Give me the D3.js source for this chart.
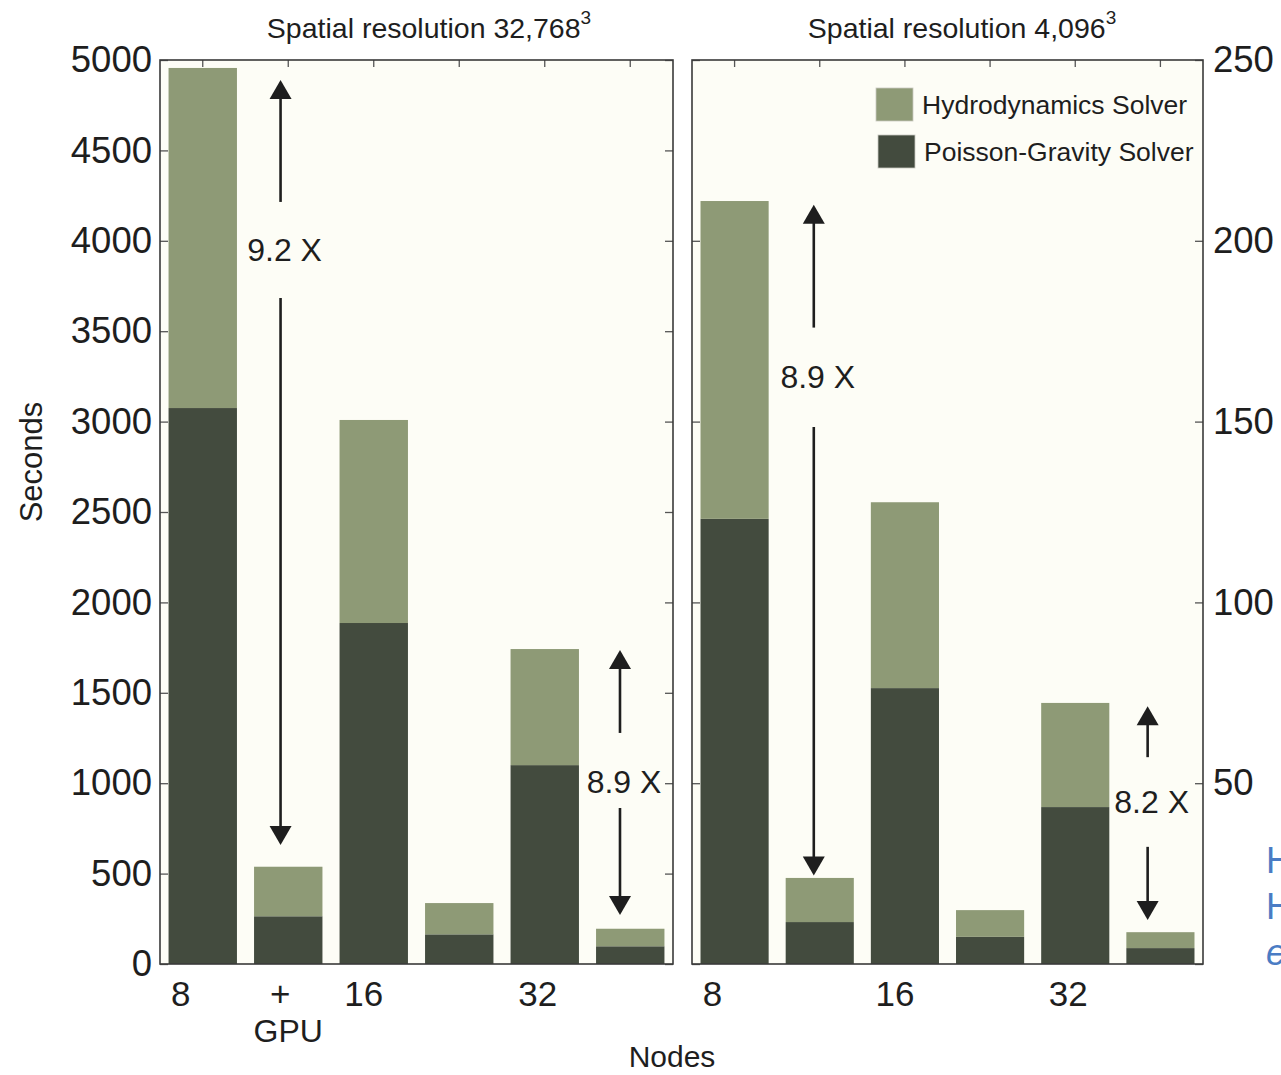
<!DOCTYPE html>
<meta charset="utf-8">
<script src="https://d3js.org/d3.v7.min.js"></script>
<style>
  body { margin: 0; background: #fff; }
  text { font-family: "Liberation Sans", Arial, Helvetica, sans-serif; fill: #1e1e1e; }
</style>
<div id="my_dataviz"></div>
<script>

// bar groups: node count, with and without GPU
var categories = ["8", "8 + GPU", "16", "16 + GPU", "32", "32 + GPU"];

// spatial resolution 32,768^3 (seconds)
var poissonLarge = [3075, 264, 1886, 164, 1100, 98];
var hydroLarge   = [1881, 274, 1123, 173, 642, 97];

// spatial resolution 4,096^3 (seconds)
var poissonSmall = [123.1, 11.6, 76.3, 7.5, 43.4, 4.4];
var hydroSmall   = [87.9, 12.2, 51.4, 7.4, 28.8, 4.4];

var ticksLarge = [0, 500, 1000, 1500, 2000, 2500, 3000, 3500, 4000, 4500, 5000];
var ticksSmall = [0, 50, 100, 150, 200, 250];

// tick labels under the bars (category they sit under)
var xLabelsLarge = [["8", "8"], ["8 + GPU", "+"], ["16", "16"], ["32", "32"]];
var xLabelsSmall = [["8", "8"], ["16", "16"], ["32", "32"]];

// speed-up arrows: position as bar index, value range, label
var arrowsLarge = [
  {at: 0.91, top: 4889, upperEnd: 4215, mid: 3950, lowerStart: 3684, bottom: 658, label: "9.2 X"},
  {at: 4.88, top: 1737, upperEnd: 1278, mid: 1007, lowerStart: 863, bottom: 271, label: "8.9 X"}
];
var arrowsSmall = [
  {at: 0.93, top: 210, upperEnd: 176, mid: 162.5, lowerStart: 148.5, bottom: 24.5, label: "8.9 X"},
  {at: 4.85, top: 71.3, upperEnd: 57.2, mid: 45, lowerStart: 32.4, bottom: 12.2, label: "8.2 X"}
];

var keys = ["poisson", "hydro"];
var color = d3.scaleOrdinal().domain(keys).range(["#434b3e", "#8e9a76"]);

var width = 1281, height = 1075;
var top0 = 60, bottom0 = 964;

var svg = d3.select("#my_dataviz")
  .append("svg")
    .attr("width", width)
    .attr("height", height);

function drawPanel(cfg) {
  var g = svg.append("g");

  var x = d3.scaleBand()
    .domain(categories)
    .range([cfg.x0, cfg.x1])
    .paddingInner(0.2)
    .paddingOuter(0.1);
  var y = d3.scaleLinear()
    .domain([0, cfg.max])
    .range([bottom0, top0]);

  // plot background
  g.append("rect")
    .attr("x", cfg.x0).attr("y", top0)
    .attr("width", cfg.x1 - cfg.x0).attr("height", bottom0 - top0)
    .attr("fill", "#fdfdf6");

  var rows = categories.map(function(c, i) {
    return {cat: c, poisson: cfg.poisson[i], hydro: cfg.hydro[i]};
  });
  var stacked = d3.stack().keys(keys)(rows);

  g.selectAll("g.layer")
    .data(stacked)
    .enter()
    .append("g")
      .attr("fill", function(d) { return color(d.key); })
    .selectAll("rect")
    .data(function(d) { return d; })
    .enter()
    .append("rect")
      .attr("x", function(d) { return x(d.data.cat); })
      .attr("y", function(d) { return y(d[1]); })
      .attr("width", x.bandwidth())
      .attr("height", function(d) { return y(d[0]) - y(d[1]); });

  // inward ticks on all sides
  var left = g.append("g")
    .attr("transform", "translate(" + cfg.x0 + ",0)")
    .call(d3.axisLeft(y).tickValues(cfg.ticks).tickSizeInner(-8).tickSizeOuter(0).tickPadding(8)
      .tickFormat(cfg.side == "left" ? d3.format("d") : function() { return ""; }));
  var right = g.append("g")
    .attr("transform", "translate(" + cfg.x1 + ",0)")
    .call(d3.axisRight(y).tickValues(cfg.ticks).tickSizeInner(-8).tickSizeOuter(0).tickPadding(10)
      .tickFormat(cfg.side == "right" ? function(d) { return d == 0 ? "" : d; } : function() { return ""; }));
  var topAx = g.append("g")
    .attr("transform", "translate(0," + top0 + ")")
    .call(d3.axisTop(x).tickSizeInner(-7).tickSizeOuter(0).tickFormat(function() { return ""; }));

  [left, right, topAx].forEach(function(a) {
    a.select(".domain").remove();
    a.selectAll("line").attr("stroke", "#555").attr("stroke-width", 1.3);
    a.selectAll("text")
      .style("font-family", "'Liberation Sans', Arial, sans-serif")
      .style("font-size", "36.5px")
      .attr("fill", "#1e1e1e");
  });

  // frame
  g.append("rect")
    .attr("x", cfg.x0).attr("y", top0)
    .attr("width", cfg.x1 - cfg.x0).attr("height", bottom0 - top0)
    .attr("fill", "none")
    .attr("stroke", "#3a3a3a")
    .attr("stroke-width", 1.6);

  // category labels
  var nudge = {"8": -22, "+": -8, "16": -10, "32": -7};
  cfg.xLabels.forEach(function(l) {
    var cx = x(l[0]) + x.bandwidth() / 2 + nudge[l[1]];
    g.append("text")
      .attr("x", cx).attr("y", 1006)
      .attr("text-anchor", "middle")
      .style("font-size", "35px")
      .text(l[1]);
    if (l[1] == "+") {
      g.append("text")
        .attr("x", cx + 8).attr("y", 1042)
        .attr("text-anchor", "middle")
        .style("font-size", "32px")
        .text("GPU");
    }
  });

  // speed-up arrows
  cfg.arrows.forEach(function(a) {
    var ax = x(categories[0]) + x.bandwidth() / 2 + a.at * x.step();
    var tipT = y(a.top), tipB = y(a.bottom), hh = 19, hw = 11;
    g.append("line")
      .attr("x1", ax).attr("x2", ax)
      .attr("y1", tipT + hh - 1).attr("y2", y(a.upperEnd))
      .attr("stroke", "#1e1e1e").attr("stroke-width", 2.6);
    g.append("line")
      .attr("x1", ax).attr("x2", ax)
      .attr("y1", y(a.lowerStart)).attr("y2", tipB - hh + 1)
      .attr("stroke", "#1e1e1e").attr("stroke-width", 2.6);
    g.append("path")
      .attr("d", "M" + ax + "," + tipT + "L" + (ax - hw) + "," + (tipT + hh) + "L" + (ax + hw) + "," + (tipT + hh) + "Z")
      .attr("fill", "#1e1e1e");
    g.append("path")
      .attr("d", "M" + ax + "," + tipB + "L" + (ax - hw) + "," + (tipB - hh) + "L" + (ax + hw) + "," + (tipB - hh) + "Z")
      .attr("fill", "#1e1e1e");
    g.append("text")
      .attr("x", ax + 4).attr("y", y(a.mid))
      .attr("dy", "0.36em")
      .attr("text-anchor", "middle")
      .style("font-size", "32px")
      .text(a.label);
  });

  // panel title
  var t = g.append("text")
    .attr("x", cfg.titleX).attr("y", 38)
    .attr("text-anchor", "middle")
    .style("font-size", "28.5px");
  t.append("tspan").text(cfg.title);
  t.append("tspan").attr("dy", -14).style("font-size", "19px").text("3");

  return {x: x, y: y};
}

drawPanel({
  x0: 160, x1: 673, max: 5000, side: "left",
  ticks: ticksLarge, poisson: poissonLarge, hydro: hydroLarge,
  xLabels: xLabelsLarge, arrows: arrowsLarge,
  title: "Spatial resolution 32,768", titleX: 429
});

drawPanel({
  x0: 692, x1: 1203, max: 250, side: "right",
  ticks: ticksSmall, poisson: poissonSmall, hydro: hydroSmall,
  xLabels: xLabelsSmall, arrows: arrowsSmall,
  title: "Spatial resolution 4,096", titleX: 962
});

// legend
var legendItems = [["hydro", "Hydrodynamics Solver", 876, 88], ["poisson", "Poisson-Gravity Solver", 878, 135]];
legendItems.forEach(function(l) {
  svg.append("rect")
    .attr("x", l[2]).attr("y", l[3])
    .attr("width", 37).attr("height", 33)
    .attr("fill", color(l[0]))
    .attr("stroke", "#c8c8c0").attr("stroke-width", 0.8);
  svg.append("text")
    .attr("x", l[2] + 46).attr("y", l[3] + 26)
    .style("font-size", "26.5px")
    .text(l[1]);
});

// axis titles
svg.append("text")
  .attr("transform", "translate(42,462) rotate(-90)")
  .attr("text-anchor", "middle")
  .style("font-size", "31px")
  .text("Seconds");

svg.append("text")
  .attr("x", 672).attr("y", 1067)
  .attr("text-anchor", "middle")
  .style("font-size", "30px")
  .text("Nodes");

// slide text cut off at the right edge
[["H", 873, "normal"], ["H", 919, "normal"], ["e", 965, "italic"]].forEach(function(s) {
  svg.append("text")
    .attr("x", 1266).attr("y", s[1])
    .style("font-size", "36px")
    .style("font-style", s[2])
    .style("fill", "#4a7cc4")
    .text(s[0]);
});

</script>
